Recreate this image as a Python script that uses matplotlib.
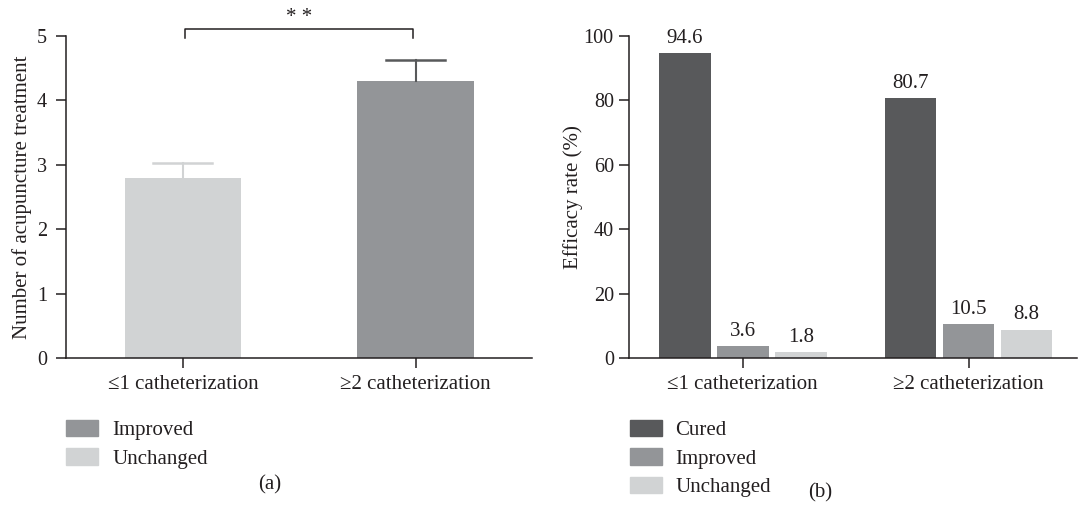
import numpy as np
import matplotlib
matplotlib.use("Agg")
import matplotlib.pyplot as plt
from matplotlib.patches import Patch

plt.rcParams['font.family'] = ['Liberation Serif', 'DejaVu Serif']

# Panel (a) data
groups = ["≤1 catheterization", "≥2 catheterization"]
acu_mean = [2.79, 4.30]
acu_err = [0.24, 0.33]

# Panel (b) data
series = ["Cured", "Improved", "Unchanged"]
efficacy = {
    "Cured": [94.6, 80.7],
    "Improved": [3.6, 10.5],
    "Unchanged": [1.8, 8.8],
}

colors = {"Cured": "#58595b", "Improved": "#939598", "Unchanged": "#d1d3d4"}
spine_col = "#231f20"
txt_col = "#231f20"
fs = 15
tfs = 14.5

fig = plt.figure(figsize=(10.79, 5.07), dpi=100)
ax1 = fig.add_axes([0.0616, 0.294, 0.4314, 0.635])
ax2 = fig.add_axes([0.583, 0.294, 0.415, 0.635])

for ax in (ax1, ax2):
    for s in ("top", "right"):
        ax.spines[s].set_visible(False)
    for s in ("left", "bottom"):
        ax.spines[s].set_color(spine_col)
        ax.spines[s].set_linewidth(1.1)
    ax.tick_params(direction="out", length=7, width=1.1, color=spine_col,
                   labelsize=tfs, labelcolor=txt_col)
    ax.tick_params(axis="x", labelsize=fs, pad=5)

# ---- panel (a)
x = np.arange(len(groups))
bar_cols = [colors["Unchanged"], colors["Improved"]]
err_cols = [colors["Unchanged"], colors["Cured"]]
ax1.bar(x, acu_mean, width=0.5, color=bar_cols)
cap = 0.127
for i in range(len(groups)):
    top = acu_mean[i] + acu_err[i]
    ax1.plot([x[i], x[i]], [acu_mean[i], top], color=err_cols[i], lw=1.5)
    ax1.plot([x[i] - cap, x[i] + cap], [top, top], color=err_cols[i], lw=1.8)
ax1.set_xlim(-0.5, 1.5)
ax1.set_ylim(0, 5)
ax1.set_yticks(range(6))
ax1.set_xticks(x)
ax1.set_xticklabels(groups)
ax1.tick_params(axis="y", pad=7)
ax1.set_ylabel("Number of acupuncture treatment", fontsize=fs, color=txt_col)
ax1.yaxis.set_label_coords(-0.075, 0.5)

# significance bracket
ax1.plot([0.01, 0.01, 0.99, 0.99], [4.97, 5.11, 5.11, 4.97],
         color=spine_col, lw=1.1, clip_on=False)
ax1.text(0.5, 5.29, "* *", ha="center", va="center", fontsize=fs, color=txt_col)

ax1.legend(handles=[Patch(color=colors["Improved"], label="Improved"),
                    Patch(color=colors["Unchanged"], label="Unchanged")],
           loc="upper left", bbox_to_anchor=(-0.023, -0.16), frameon=False,
           fontsize=fs, handlelength=1.55, handleheight=0.85, labelspacing=0.38,
           handletextpad=0.65, borderpad=0, labelcolor=txt_col)
fig.text(0.250, 0.044, "(a)", ha="center", va="center", fontsize=fs, color=txt_col)

# ---- panel (b)
w = 0.23
step = 0.257
for j, name in enumerate(series):
    pos = x + (j - 1) * step
    ax2.bar(pos, efficacy[name], width=w, color=colors[name])
    for p, v in zip(pos, efficacy[name]):
        ax2.annotate(f"{v}", (p, v), xytext=(0, 4), textcoords="offset points",
                     ha="center", va="bottom", fontsize=fs, color=txt_col)
ax2.set_xlim(-0.504, 1.48)
ax2.set_ylim(0, 100)
ax2.set_yticks(range(0, 101, 20))
ax2.set_xticks(x)
ax2.set_xticklabels(groups)
ax2.tick_params(axis="y", pad=4)
ax2.set_ylabel("Efficacy rate (%)", fontsize=fs, color=txt_col)
ax2.yaxis.set_label_coords(-0.103, 0.5)

ax2.legend(handles=[Patch(color=colors[n], label=n) for n in series],
           loc="upper left", bbox_to_anchor=(-0.022, -0.16), frameon=False,
           fontsize=fs, handlelength=1.55, handleheight=0.85, labelspacing=0.38,
           handletextpad=0.65, borderpad=0, labelcolor=txt_col)
fig.text(0.760, 0.028, "(b)", ha="center", va="center", fontsize=fs, color=txt_col)

fig.savefig("out.png", dpi=100)
